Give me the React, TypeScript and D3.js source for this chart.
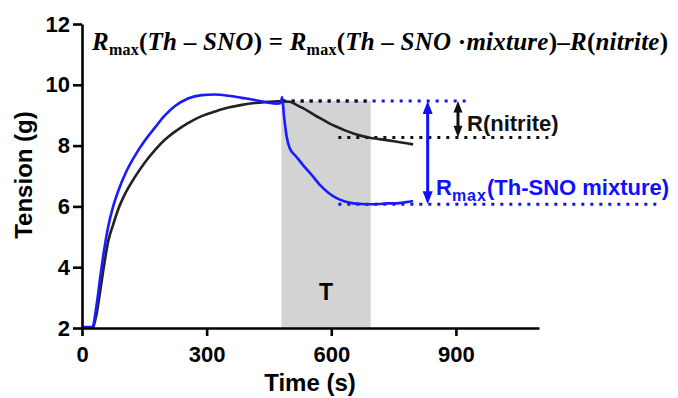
import React, { useRef, useEffect } from 'react';
import * as d3 from 'd3';

// blue trace: Th-SNO mixture
const blueTime = [0, 25, 35, 43, 53, 63, 75, 87, 105, 128, 150, 176, 200, 224, 255, 288, 320, 352, 385, 416, 445, 470, 478, 482, 486, 492, 500, 515, 532, 552, 573, 593, 613, 633, 653, 673, 693, 715, 735, 757, 780, 797];
const blueTension = [2.03, 2.03, 2.75, 3.58, 4.55, 5.33, 6.0, 6.5, 7.1, 7.68, 8.14, 8.6, 9.0, 9.3, 9.55, 9.66, 9.68, 9.64, 9.57, 9.5, 9.42, 9.38, 9.4, 9.6, 9.0, 8.35, 7.91, 7.65, 7.36, 7.05, 6.7, 6.45, 6.27, 6.16, 6.1, 6.08, 6.07, 6.08, 6.1, 6.1, 6.14, 6.18];

// black trace: nitrite
const blackTime = [27, 35, 43, 53, 63, 75, 87, 105, 128, 150, 176, 200, 224, 255, 288, 320, 352, 385, 416, 440, 464, 480, 500, 515, 532, 552, 573, 593, 613, 633, 653, 673, 693, 713, 733, 765, 797];
const blackTension = [2.0, 2.45, 3.14, 4.05, 4.85, 5.4, 5.9, 6.45, 6.98, 7.42, 7.86, 8.2, 8.46, 8.74, 8.97, 9.12, 9.25, 9.34, 9.4, 9.43, 9.45, 9.46, 9.44, 9.35, 9.23, 9.07, 8.9, 8.75, 8.62, 8.5, 8.4, 8.32, 8.26, 8.22, 8.18, 8.11, 8.04];

const xTicks = [0, 300, 600, 900];
const yTicks = [2, 4, 6, 8, 10, 12];

// treatment window and reference levels
const shadeRange = [480, 695];
const maxLevel = 9.47;
const nitriteLevel = 8.27;
const mixtureLevel = 6.07;

const SANS = 'Liberation Sans, Arial, Helvetica, sans-serif';
const SERIF = 'Liberation Serif, Times New Roman, serif';

const App = () => {
  const svgRef = useRef<SVGSVGElement>(null);

  useEffect(() => {
    const svg = d3.select(svgRef.current);
    svg.selectAll('*').remove();

    const x = d3.scaleLinear().domain([0, 1100]).range([82, 539]);
    const y = d3.scaleLinear().domain([2, 12]).range([328, 24]);

    const label = (sel, size, family = SANS) =>
      sel.attr('font-family', family).attr('font-weight', 'bold').attr('font-size', size);

    // shaded T period
    svg.append('rect')
      .attr('x', x(shadeRange[0]))
      .attr('y', y(maxLevel))
      .attr('width', x(shadeRange[1]) - x(shadeRange[0]))
      .attr('height', y(2) - y(maxLevel))
      .attr('fill', '#d3d3d3');

    label(svg.append('text'), 23)
      .attr('x', x((shadeRange[0] + shadeRange[1]) / 2))
      .attr('y', 300)
      .attr('text-anchor', 'middle')
      .text('T');

    // dotted reference lines
    const dotted = (t0, t1, v, color) => {
      svg.append('line')
        .attr('x1', x(t0)).attr('x2', x(t1))
        .attr('y1', y(v)).attr('y2', y(v))
        .attr('stroke', color)
        .attr('stroke-width', 3)
        .attr('stroke-dasharray', '3,6');
    };
    dotted(483, 925, maxLevel, '#1010ff');
    dotted(483, 700, maxLevel, '#111');
    dotted(617, 1134, nitriteLevel, '#111');
    dotted(617, 1391, mixtureLevel, '#1010ff');

    const line = d3.line<[number, number]>()
      .x(d => x(d[0]))
      .y(d => y(d[1]))
      .curve(d3.curveMonotoneX);

    svg.append('path')
      .datum(blackTime.map((t, i) => [t, blackTension[i]] as [number, number]))
      .attr('d', line)
      .attr('fill', 'none')
      .attr('stroke', '#222')
      .attr('stroke-width', 2.6);

    svg.append('path')
      .datum(blueTime.map((t, i) => [t, blueTension[i]] as [number, number]))
      .attr('d', line)
      .attr('fill', 'none')
      .attr('stroke', '#1a1aff')
      .attr('stroke-width', 2.6);

    // double-headed arrows
    const arrow = (t, v0, v1, color, head) => {
      const xa = x(t);
      const ya = y(v0);
      const yb = y(v1);
      svg.append('line')
        .attr('x1', xa).attr('x2', xa)
        .attr('y1', ya + head).attr('y2', yb - head)
        .attr('stroke', color)
        .attr('stroke-width', 3);
      svg.append('path')
        .attr('d', `M${xa},${ya}L${xa - head / 2},${ya + head * 1.3}L${xa + head / 2},${ya + head * 1.3}Z`)
        .attr('fill', color);
      svg.append('path')
        .attr('d', `M${xa},${yb}L${xa - head / 2},${yb - head * 1.3}L${xa + head / 2},${yb - head * 1.3}Z`)
        .attr('fill', color);
    };
    arrow(832, maxLevel, mixtureLevel, '#1010ff', 10);
    arrow(905, maxLevel, nitriteLevel, '#111', 9);

    label(svg.append('text'), 22)
      .attr('x', 467).attr('y', 131)
      .attr('fill', '#111')
      .text('R(nitrite)');

    const rm = label(svg.append('text'), 22)
      .attr('x', 436).attr('y', 195)
      .attr('fill', '#1010ff');
    rm.append('tspan').text('R');
    rm.append('tspan').attr('dy', 6).attr('font-size', 16).attr('letter-spacing', 1).text('max');
    rm.append('tspan').attr('dy', -6).text('(Th-SNO mixture)');

    // equation
    const eq = label(svg.append('text'), 25, SERIF)
      .attr('x', 92).attr('y', 50)
      .attr('textLength', 576)
      .attr('lengthAdjust', 'spacing')
      .attr('fill', '#000');
    const part = (s, italic, sub = false) => {
      const ts = eq.append('tspan').text(s);
      if (italic) ts.attr('font-style', 'italic');
      if (sub) ts.attr('font-size', 16).attr('dy', 5);
      return ts;
    };
    part('R', true);
    part('max', false, true);
    part('(', false).attr('dy', -5);
    part('Th', true);
    part(' \u2013 ', false);
    part('SNO', true);
    part(') = ', false);
    part('R', true);
    part('max', false, true);
    part('(', false).attr('dy', -5);
    part('Th', true);
    part(' \u2013 ', false);
    part('SNO', true);
    part(' \u00b7', false);
    part('mixture', true);
    part(')\u2013', false);
    part('R', true);
    part('(', false);
    part('nitrite', true);
    part(')', false);

    // axes
    const yAxis = d3.axisLeft(y).tickValues(yTicks).tickSize(9).tickSizeOuter(0).tickPadding(3);
    const xAxis = d3.axisBottom(x).tickValues(xTicks).tickSize(8).tickSizeOuter(0).tickPadding(10);

    const gy = svg.append('g').attr('transform', `translate(${x(0)},0)`).call(yAxis);
    const gx = svg.append('g').attr('transform', `translate(0,${y(2)})`).call(xAxis);

    [gx, gy].forEach(g => {
      g.attr('font-family', SANS).attr('font-size', 22).attr('font-weight', 'bold');
      g.select('.domain').attr('stroke', '#000').attr('stroke-width', 2.6);
      g.selectAll('.tick line').attr('stroke', '#000').attr('stroke-width', 2.6);
      g.selectAll('.tick text').attr('fill', '#000');
    });

    label(svg.append('text'), 24)
      .attr('x', 310).attr('y', 391)
      .attr('text-anchor', 'middle')
      .text('Time (s)');

    label(svg.append('text'), 24)
      .attr('transform', 'translate(32,175) rotate(-90)')
      .attr('text-anchor', 'middle')
      .text('Tension (g)');
  }, []);

  return (
    <svg
      ref={svgRef}
      width={678}
      height={398}
      style={{ position: 'absolute', left: 0, top: 0, background: '#fff' }}
    />
  );
};

export default App;
